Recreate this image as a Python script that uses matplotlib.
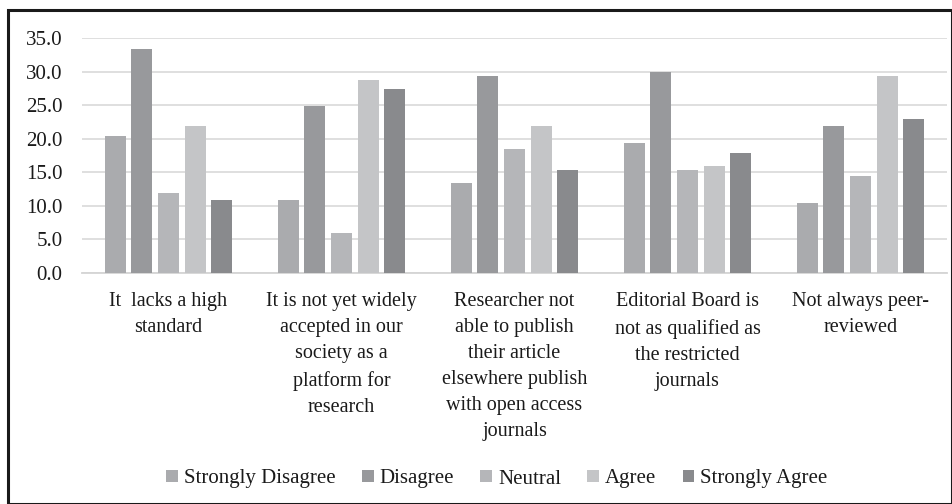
import matplotlib.pyplot as plt
import numpy as np
from matplotlib.patches import Rectangle

plt.rcParams['font.family'] = ['Liberation Serif', 'DejaVu Serif']

categories = [
    'It  lacks a high\nstandard',
    'It is not yet widely\naccepted in our\nsociety as a\nplatform for\nresearch',
    'Researcher not\nable to publish\ntheir article\nelsewhere publish\nwith open access\njournals',
    'Editorial Board is\nnot as qualified as\nthe restricted\njournals',
    'Not always peer-\nreviewed',
]
series_names = ['Strongly Disagree', 'Disagree', 'Neutral', 'Agree', 'Strongly Agree']
strongly_disagree = [20.4, 10.9, 13.4, 19.4, 10.4]
disagree = [33.4, 24.9, 29.3, 29.9, 21.9]
neutral = [11.9, 6.0, 18.4, 15.4, 14.4]
agree = [21.9, 28.8, 21.9, 15.9, 29.3]
strongly_agree = [10.9, 27.4, 15.4, 17.9, 22.9]
yticks = [0, 5, 10, 15, 20, 25, 30, 35]

colors = ['#aaabae', '#98999c', '#b5b6b9', '#c4c5c7', '#898a8d']
series = [strongly_disagree, disagree, neutral, agree, strongly_agree]

fig = plt.figure(figsize=(9.52, 5.04), dpi=100)
ax = fig.add_axes([82 / 952, 1 - 273 / 504, 865 / 952, 235 / 504])

x = np.arange(len(categories))
pitch = 0.154
width = 0.12
for i, (vals, name, c) in enumerate(zip(series, series_names, colors)):
    ax.bar(x + (i - 2) * pitch, vals, width=width, color=c, label=name, zorder=3)

ax.set_xlim(-0.5, len(categories) - 0.5)
ax.set_ylim(0, 35)
ax.set_yticks(yticks)
ax.set_yticklabels([f'{v:.1f}' for v in yticks], fontsize=15, color='#1a1a1a')
ax.set_xticks(x)
ax.set_xticklabels(categories, fontsize=14.5, color='#1a1a1a', linespacing=1.5,
                   va='top')
ax.tick_params(axis='both', length=0)
ax.tick_params(axis='y', pad=14)
ax.tick_params(axis='x', pad=14)
ax.grid(axis='y', color='#dcdcdc', linewidth=1.3, zorder=0)
for s in ['top', 'right', 'left']:
    ax.spines[s].set_visible(False)
ax.spines['bottom'].set_color('#d4d4d4')
ax.spines['bottom'].set_linewidth(1.3)

leg = fig.legend(loc='center', bbox_to_anchor=(497 / 952, 1 - 479 / 504), ncol=5,
                 frameon=False, fontsize=15, handlelength=0.56, handleheight=0.56,
                 handletextpad=0.3, columnspacing=1.25)
for t in leg.get_texts():
    t.set_color('#1a1a1a')

# outer frame
fig.patches.append(Rectangle((8 / 952, 0), 1 - 8 / 952, 1 - 10 / 504,
                             transform=fig.transFigure, fill=False,
                             edgecolor='#1a1a1a', linewidth=2.2))

fig.savefig('out.png', dpi=100)
